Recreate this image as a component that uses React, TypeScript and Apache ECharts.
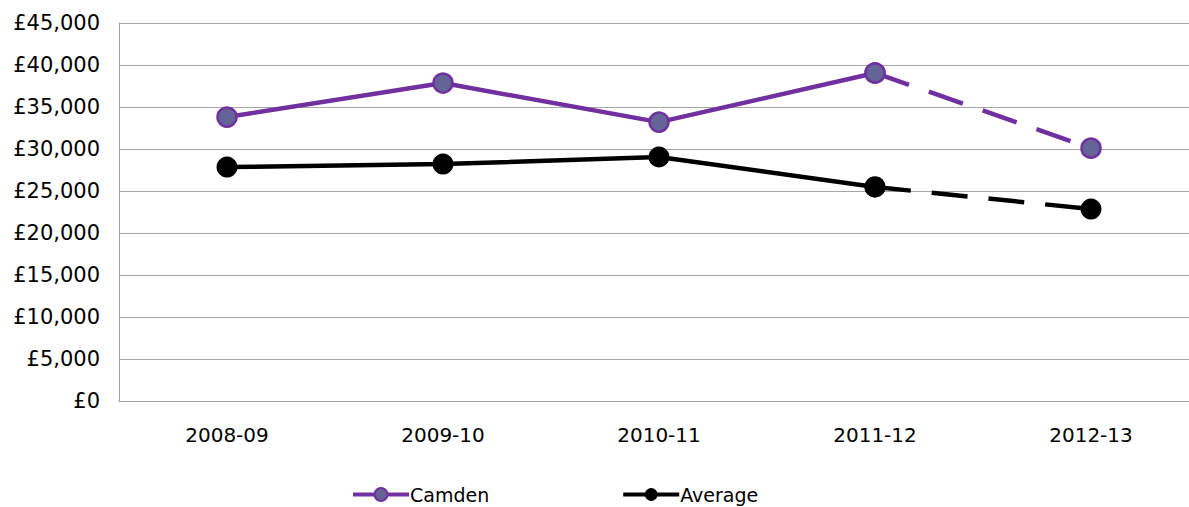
import React, { useEffect, useRef } from "react";
import * as echarts from "echarts";

const categories = ["2008-09", "2009-10", "2010-11", "2011-12", "2012-13"];
const camden = [33800, 37850, 33200, 39050, 30100];
const average = [27850, 28200, 29050, 25480, 22850];
const yTicks = [0, 5000, 10000, 15000, 20000, 25000, 30000, 35000, 40000, 45000];

const FONT = "DejaVu Sans";

export default function App() {
  const ref = useRef<HTMLDivElement>(null);
  useEffect(() => {
    if (!ref.current) return;
    const chart = echarts.init(ref.current, undefined, { renderer: "svg" });
    const solid = (arr: number[]) => arr.map((v, i) => (i <= 3 ? v : null));
    const dashed = (arr: number[]) => arr.map((v, i) => (i >= 3 ? v : null));
    const fmt = (v: number) => "£" + v.toLocaleString("en-GB");
    chart.setOption({
      animation: false,
      textStyle: { fontFamily: FONT },
      grid: { left: 119, top: 23, right: 11, bottom: 106, containLabel: false },
      legend: {
        data: ["Camden", "Average"],
        left: 346,
        top: 480,
        itemWidth: 56,
        itemHeight: 16,
        itemGap: 132,
        lineStyle: { width: 4 },
        textStyle: { fontFamily: FONT, fontSize: 19, color: "#000", padding: [0, 0, 0, -4] },
      },
      xAxis: {
        type: "category",
        data: categories,
        axisLine: { lineStyle: { color: "#A0A0A0", width: 1 } },
        axisTick: { show: false },
        axisLabel: { color: "#000", fontSize: 20, fontFamily: FONT, margin: 24 },
      },
      yAxis: {
        type: "value",
        min: yTicks[0],
        max: yTicks[yTicks.length - 1],
        interval: 5000,
        axisLine: { show: true, lineStyle: { color: "#A0A0A0", width: 1 } },
        axisTick: { show: false },
        splitLine: { lineStyle: { color: "#A6A6A6", width: 1 } },
        axisLabel: { color: "#000", fontSize: 21, fontFamily: FONT, margin: 19, formatter: fmt },
      },
      series: [
        {
          name: "Camden",
          type: "line",
          data: solid(camden),
          symbol: "circle",
          symbolSize: 19,
          lineStyle: { color: "#7030A0", width: 4.5 },
          itemStyle: { color: "#646496", borderColor: "#7030A0", borderWidth: 2.5 },
          z: 3,
        },
        {
          name: "Camden (proj)",
          type: "line",
          data: dashed(camden),
          symbol: "circle",
          symbolSize: 19,
          lineStyle: { color: "#7030A0", width: 4.5, type: [36, 21], cap: "butt" },
          itemStyle: { color: "#646496", borderColor: "#7030A0", borderWidth: 2.5 },
          z: 2,
        },
        {
          name: "Average",
          type: "line",
          data: solid(average),
          symbol: "circle",
          symbolSize: 21,
          lineStyle: { color: "#000", width: 4.5 },
          itemStyle: { color: "#000" },
          z: 3,
        },
        {
          name: "Average (proj)",
          type: "line",
          data: dashed(average),
          symbol: "circle",
          symbolSize: 21,
          lineStyle: { color: "#000", width: 4.5, type: [36, 21], cap: "butt" },
          itemStyle: { color: "#000" },
          z: 2,
        },
      ],
    });
    return () => chart.dispose();
  }, []);
  return (
    <div
      style={{ position: "fixed", left: 0, top: 0, width: 1189, height: 507, overflow: "hidden", background: "#fff" }}
    >
      <div ref={ref} style={{ width: 1210, height: 507 }} />
    </div>
  );
}
